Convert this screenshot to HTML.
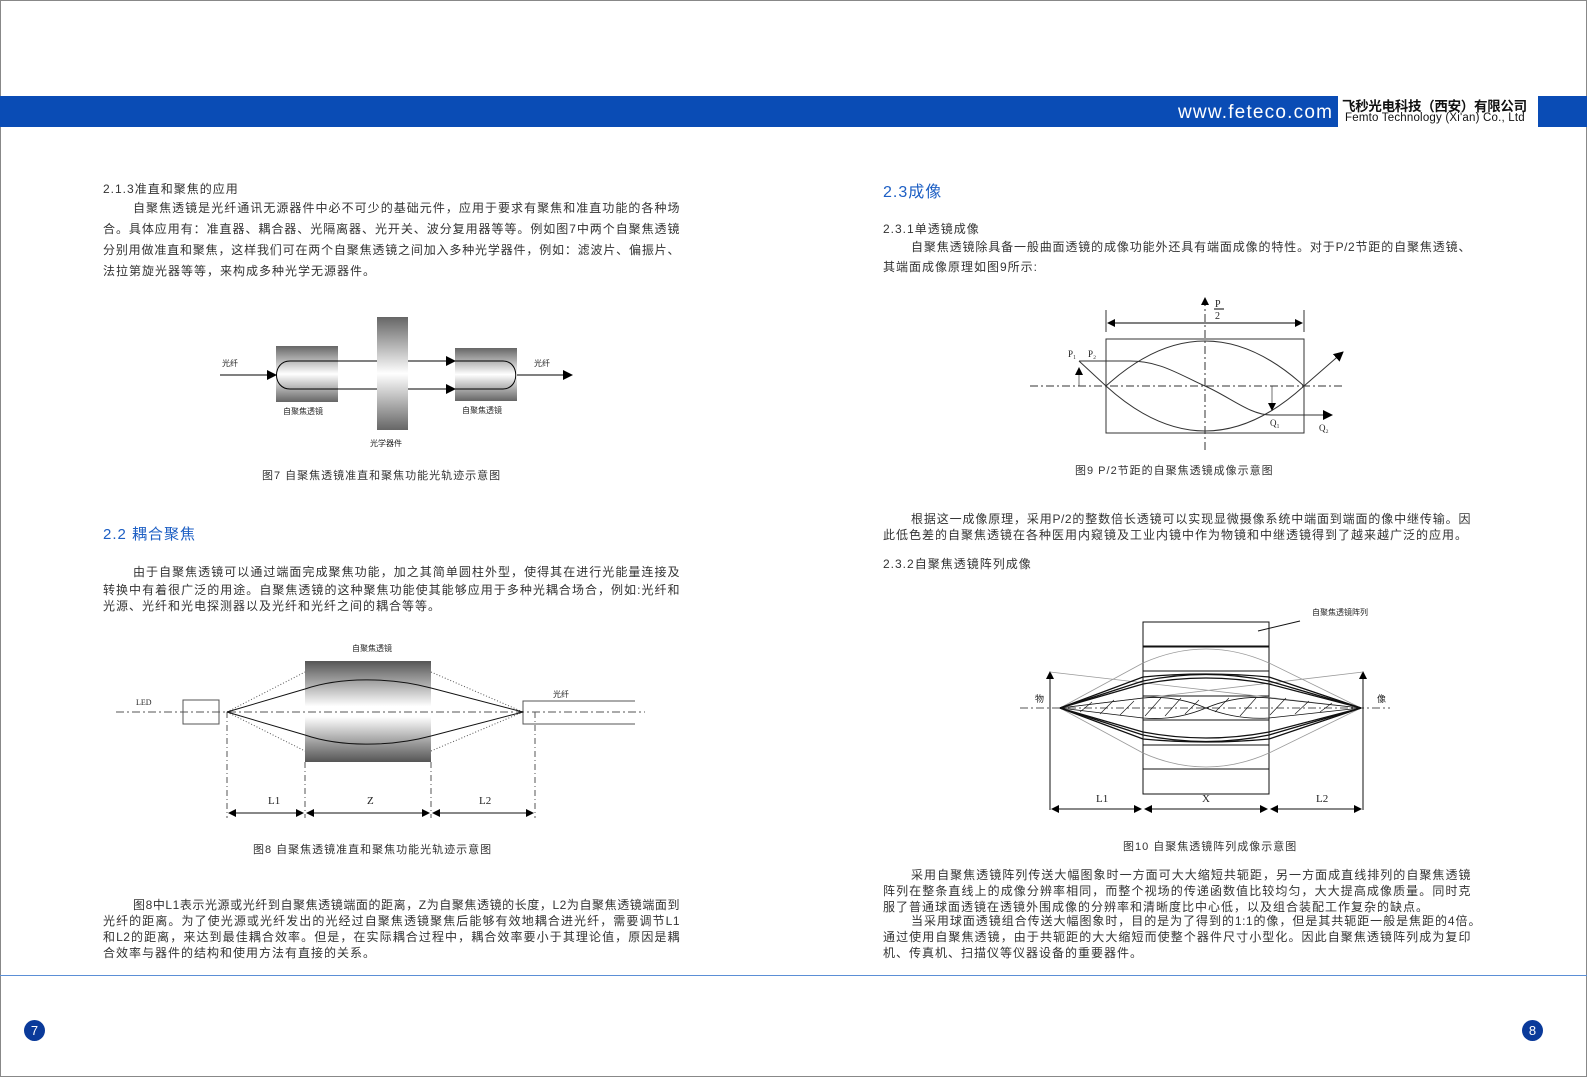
<!DOCTYPE html>
<html><head><meta charset="utf-8"><style>
*{margin:0;padding:0}
body{width:1587px;height:1077px;position:relative;background:#fff;overflow:hidden;font-family:"Liberation Sans","Noto Sans CJK SC",sans-serif;color:#333}
.t{position:absolute;font-size:12px;white-space:nowrap;letter-spacing:1px}
.j{position:absolute;font-size:12px;white-space:nowrap;text-align:justify;text-align-last:justify;letter-spacing:0.5px}
.h{position:absolute;font-size:15px;color:#1d5fc4;letter-spacing:1px}
.s{font-size:8px;font-family:"Liberation Sans","Noto Sans CJK SC",sans-serif;fill:#222}
.r{font-family:"Liberation Serif",serif;font-size:11px;fill:#222}
</style></head><body>
<div style="position:absolute;left:0;top:0;width:1585px;height:1075px;border:1px solid #888"></div>
<div style="position:absolute;left:0;top:96px;width:1587px;height:31px;background:#0a4cb5"></div>
<div style="position:absolute;left:1338px;top:96px;width:200px;height:31px;background:#fff"></div>
<div style="position:absolute;left:1178px;top:102px;color:#fff;font-size:19px;letter-spacing:1.2px">www.feteco.com</div>
<div style="position:absolute;left:1342px;top:95px;font-size:13.5px;font-weight:bold;color:#111;letter-spacing:-0.3px;font-family:'Noto Sans CJK SC',sans-serif">飞秒光电科技（西安）有限公司</div>
<div style="position:absolute;left:1345px;top:112px;font-size:11.5px;color:#111;letter-spacing:0.2px">Femto Technology (Xi'an) Co., Ltd</div>
<div style="position:absolute;left:0;top:975px;width:1587px;height:1px;background:#5b8fd6"></div>
<div style="position:absolute;left:24px;top:1020px;width:21px;height:21px;border-radius:50%;background:#0a3a9a;color:#fff;font-size:13px;text-align:center;line-height:21px">7</div>
<div style="position:absolute;left:1522px;top:1020px;width:21px;height:21px;border-radius:50%;background:#0a3a9a;color:#fff;font-size:13px;text-align:center;line-height:21px">8</div>

<div class="t" style="left:103px;top:180px">2.1.3准直和聚焦的应用</div>
<div class="j" style="left:133px;top:199px;width:547px">自聚焦透镜是光纤通讯无源器件中必不可少的基础元件，应用于要求有聚焦和准直功能的各种场</div>
<div class="j" style="left:103px;top:220px;width:577px">合。具体应用有：准直器、耦合器、光隔离器、光开关、波分复用器等等。例如图7中两个自聚焦透镜</div>
<div class="j" style="left:103px;top:241px;width:577px">分别用做准直和聚焦，这样我们可在两个自聚焦透镜之间加入多种光学器件，例如：滤波片、偏振片、</div>
<div class="t" style="left:103px;top:262px">法拉第旋光器等等，来构成多种光学无源器件。</div>
<div class="t" style="left:262px;top:467px;font-size:11px">图7 自聚焦透镜准直和聚焦功能光轨迹示意图</div>
<div class="h" style="left:103px;top:523px">2.2 耦合聚焦</div>
<div class="j" style="left:133px;top:563px;width:547px">由于自聚焦透镜可以通过端面完成聚焦功能，加之其简单圆柱外型，使得其在进行光能量连接及</div>
<div class="j" style="left:103px;top:581px;width:577px">转换中有着很广泛的用途。自聚焦透镜的这种聚焦功能使其能够应用于多种光耦合场合，例如:光纤和</div>
<div class="t" style="left:103px;top:597px">光源、光纤和光电探测器以及光纤和光纤之间的耦合等等。</div>
<div class="t" style="left:253px;top:841px;font-size:11px">图8 自聚焦透镜准直和聚焦功能光轨迹示意图</div>
<div class="j" style="left:133px;top:896px;width:547px">图8中L1表示光源或光纤到自聚焦透镜端面的距离，Z为自聚焦透镜的长度，L2为自聚焦透镜端面到</div>
<div class="j" style="left:103px;top:912px;width:577px">光纤的距离。为了使光源或光纤发出的光经过自聚焦透镜聚焦后能够有效地耦合进光纤，需要调节L1</div>
<div class="j" style="left:103px;top:928px;width:577px">和L2的距离，来达到最佳耦合效率。但是，在实际耦合过程中，耦合效率要小于其理论值，原因是耦</div>
<div class="t" style="left:103px;top:944px">合效率与器件的结构和使用方法有直接的关系。</div>

<div class="h" style="left:883px;top:178px;font-size:16px">2.3成像</div>
<div class="t" style="left:883px;top:220px">2.3.1单透镜成像</div>
<div class="j" style="left:911px;top:238px;width:560px">自聚焦透镜除具备一般曲面透镜的成像功能外还具有端面成像的特性。对于P/2节距的自聚焦透镜、</div>
<div class="t" style="left:883px;top:258px">其端面成像原理如图9所示:</div>
<div class="t" style="left:1075px;top:462px;font-size:11px">图9  P/2节距的自聚焦透镜成像示意图</div>
<div class="j" style="left:911px;top:510px;width:560px">根据这一成像原理，采用P/2的整数倍长透镜可以实现显微摄像系统中端面到端面的像中继传输。因</div>
<div class="t" style="left:883px;top:526px">此低色差的自聚焦透镜在各种医用内窥镜及工业内镜中作为物镜和中继透镜得到了越来越广泛的应用。</div>
<div class="t" style="left:883px;top:555px">2.3.2自聚焦透镜阵列成像</div>
<div class="t" style="left:1123px;top:838px;font-size:11px">图10 自聚焦透镜阵列成像示意图</div>
<div class="j" style="left:911px;top:866px;width:560px">采用自聚焦透镜阵列传送大幅图象时一方面可大大缩短共轭距，另一方面成直线排列的自聚焦透镜</div>
<div class="j" style="left:883px;top:882px;width:588px">阵列在整条直线上的成像分辨率相同，而整个视场的传递函数值比较均匀，大大提高成像质量。同时克</div>
<div class="t" style="left:883px;top:898px">服了普通球面透镜在透镜外围成像的分辨率和清晰度比中心低，以及组合装配工作复杂的缺点。</div>
<div class="j" style="left:911px;top:912px;width:570px">当采用球面透镜组合传送大幅图象时，目的是为了得到的1:1的像，但是其共轭距一般是焦距的4倍。</div>
<div class="j" style="left:883px;top:928px;width:588px">通过使用自聚焦透镜，由于共轭距的大大缩短而使整个器件尺寸小型化。因此自聚焦透镜阵列成为复印</div>
<div class="t" style="left:883px;top:944px">机、传真机、扫描仪等仪器设备的重要器件。</div>

<svg width="1587" height="1077" style="position:absolute;left:0;top:0" xmlns="http://www.w3.org/2000/svg">
<defs>
<linearGradient id="g" x1="0" y1="0" x2="0" y2="1"><stop offset="0" stop-color="#666"/><stop offset=".5" stop-color="#fff"/><stop offset="1" stop-color="#666"/></linearGradient>
<linearGradient id="g2" x1="0" y1="0" x2="0" y2="1"><stop offset="0" stop-color="#555"/><stop offset=".45" stop-color="#fff"/><stop offset=".55" stop-color="#fff"/><stop offset="1" stop-color="#555"/></linearGradient>
<marker id="a" markerWidth="8" markerHeight="8" refX="7" refY="4" orient="auto" markerUnits="userSpaceOnUse"><path d="M0,0L8,4L0,8z" fill="#000"/></marker>
<marker id="as" markerWidth="8" markerHeight="8" refX="1" refY="4" orient="auto" markerUnits="userSpaceOnUse"><path d="M8,0L0,4L8,8z" fill="#000"/></marker>
<marker id="b" markerWidth="10" markerHeight="10" refX="9" refY="5" orient="auto" markerUnits="userSpaceOnUse"><path d="M0,0L10,5L0,10z" fill="#000"/></marker>
</defs>
<g stroke="#000" stroke-width="1" fill="none">
<rect x="276" y="346" width="62" height="56" fill="url(#g)" stroke="none"/>
<rect x="377" y="317" width="31" height="113" fill="url(#g)" stroke="none"/>
<rect x="455" y="348" width="62" height="53" fill="url(#g)" stroke="none"/>
<line x1="220" y1="375" x2="276" y2="375" marker-end="url(#b)"/>
<path d="M377,361H290C272,361 272,389 290,389H377"/>
<line x1="408" y1="361" x2="455" y2="361" marker-end="url(#b)"/>
<line x1="408" y1="389" x2="455" y2="389" marker-end="url(#b)"/>
<path d="M455,361H503C520,361 520,389 503,389H455"/>
<line x1="517" y1="375" x2="572" y2="375" marker-end="url(#b)"/>
</g>
<text x="222" y="366" class="s">光纤</text><text x="534" y="366" class="s">光纤</text>
<text x="283" y="414" class="s">自聚焦透镜</text><text x="462" y="413" class="s">自聚焦透镜</text>
<text x="370" y="446" class="s">光学器件</text>
<rect x="305" y="661" width="126" height="101" fill="url(#g2)"/>
<g stroke="#555" fill="none" stroke-width="1">
<rect x="183" y="700" width="36" height="24"/>
<path d="M635,701H523V724H635"/>
<line x1="116" y1="712" x2="645" y2="712" stroke-dasharray="8,3,2,3"/>
<g stroke-dasharray="6,3,1,3"><line x1="227" y1="712" x2="227" y2="818"/><line x1="305" y1="762" x2="305" y2="818"/><line x1="431" y1="762" x2="431" y2="818"/><line x1="535" y1="712" x2="535" y2="818"/></g>
<g stroke-dasharray="1,2"><path d="M227,712L305,672M431,672L523,712M227,712L305,751M431,751L523,712"/></g>
</g>
<g stroke="#111" fill="none">
<path d="M227,712L305,689C340,677 390,677 431,688L523,712"/>
<path d="M227,712L305,735C340,747 390,747 431,736L523,712"/>
</g>
<g stroke="#111"><line x1="229" y1="813" x2="303" y2="813" marker-start="url(#as)" marker-end="url(#a)"/><line x1="307" y1="813" x2="429" y2="813" marker-start="url(#as)" marker-end="url(#a)"/><line x1="433" y1="813" x2="533" y2="813" marker-start="url(#as)" marker-end="url(#a)"/></g>
<text x="136" y="705" class="r" style="font-size:8px">LED</text>
<text x="553" y="697" class="s">光纤</text><text x="352" y="651" class="s">自聚焦透镜</text>
<text x="268" y="804" class="r">L1</text><text x="367" y="804" class="r">Z</text><text x="479" y="804" class="r">L2</text>
<g stroke="#333" fill="none">
<rect x="1106" y="339" width="198" height="94"/>
<line x1="1030" y1="386" x2="1345" y2="386" stroke-dasharray="8,3,2,3"/>
<line x1="1205" y1="450" x2="1205" y2="300" stroke-dasharray="8,3,2,3"/>
<line x1="1205" y1="306" x2="1205" y2="298" stroke="#000" marker-end="url(#a)"/>
<line x1="1106" y1="310" x2="1106" y2="332"/><line x1="1304" y1="310" x2="1304" y2="332"/>
<line x1="1108" y1="323" x2="1302" y2="323" marker-start="url(#as)" marker-end="url(#a)" stroke="#000"/>
<path d="M1106,386Q1205,296 1304,386M1106,386Q1205,476 1304,386"/>
<path d="M1079,361H1130C1160,361 1180,375 1205,386S1250,415 1271,415"/>
<line x1="1271" y1="415" x2="1332" y2="415" marker-end="url(#b)"/>
<line x1="1079" y1="361" x2="1106" y2="386"/>
<line x1="1079" y1="386" x2="1079" y2="368" marker-end="url(#a)" stroke-width=".7"/>
<line x1="1272" y1="386" x2="1272" y2="410" marker-end="url(#a)" stroke-width=".7"/>
<line x1="1304" y1="386" x2="1343" y2="352" marker-end="url(#b)"/>
</g>
<text x="1215" y="307" class="r" style="font-size:10px">P</text><line x1="1214" y1="309" x2="1224" y2="309" stroke="#000"/><text x="1215" y="319" class="r" style="font-size:10px">2</text>
<text x="1068" y="357" class="r" style="font-size:9px">P₁</text><text x="1088" y="357" class="r" style="font-size:9px">P₂</text>
<text x="1270" y="426" class="r" style="font-size:9px">Q₁</text><text x="1319" y="431" class="r" style="font-size:9px">Q₂</text>
<g stroke="#111" fill="none">
<rect x="1143" y="622" width="126" height="172"/>
<path d="M1143,646H1269M1143,647H1269M1143,671H1269M1143,696H1269M1143,720H1269M1143,745H1269M1143,769H1269"/>
<line x1="1020" y1="708" x2="1390" y2="708" stroke-dasharray="8,3,2,3" stroke="#555"/>
<line x1="1050" y1="810" x2="1050" y2="672" marker-end="url(#a)"/>
<line x1="1363" y1="810" x2="1363" y2="672" marker-end="url(#a)"/>
<line x1="1258" y1="631" x2="1300" y2="621"/>
<g stroke="#999" stroke-width=".8">
<path d="M1060,708L1143,663Q1206,635 1269,663L1361,708"/><path d="M1060,708L1143,753Q1206,781 1269,753L1361,708"/>
<path d="M1050,672L1361,708M1363,672L1060,708"/>
</g>
<g stroke-width="1.3">
<path d="M1060,708L1143,681Q1206,668 1269,681L1361,708"/><path d="M1060,708L1143,677Q1206,671 1269,677L1361,708"/><path d="M1060,708L1143,684Q1206,672 1269,684L1361,708"/>
<path d="M1060,708L1143,735Q1206,748 1269,735L1361,708"/><path d="M1060,708L1143,739Q1206,745 1269,739L1361,708"/><path d="M1060,708L1143,732Q1206,744 1269,732L1361,708"/>
</g>
<path d="M1060,708L1143,698Q1175,695 1206,708Q1237,720 1269,718L1361,708M1060,708L1143,718Q1175,721 1206,708Q1237,695 1269,698L1361,708" stroke-width=".8"/>
<g stroke-width=".6"><path d="M1080,712l12,-10M1100,714l14,-14M1120,715l14,-14M1145,716l16,-18M1165,716l16,-18M1185,714l14,-14M1215,712l14,-14M1240,716l16,-18M1270,715l16,-17M1295,714l14,-13M1320,712l12,-9"/></g>
<line x1="1052" y1="809" x2="1141" y2="809" marker-start="url(#as)" marker-end="url(#a)"/>
<line x1="1145" y1="809" x2="1267" y2="809" marker-start="url(#as)" marker-end="url(#a)"/>
<line x1="1271" y1="809" x2="1361" y2="809" marker-start="url(#as)" marker-end="url(#a)"/>
</g>
<text x="1035" y="702" class="s" style="font-size:9px">物</text><text x="1377" y="702" class="s" style="font-size:9px">像</text>
<text x="1312" y="615" class="s">自聚焦透镜阵列</text>
<text x="1096" y="802" class="r">L1</text><text x="1202" y="802" class="r">X</text><text x="1316" y="802" class="r">L2</text>
</svg>
</body></html>
